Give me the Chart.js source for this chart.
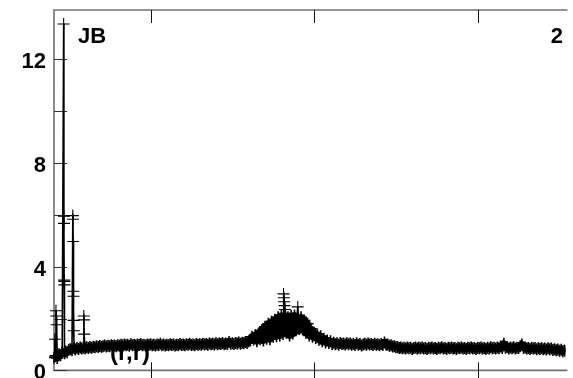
<!DOCTYPE html>
<html><head><meta charset="utf-8">
<script src="https://cdn.jsdelivr.net/npm/chart.js@4/dist/chart.umd.min.js"></script>
<style>html,body{margin:0;padding:0;background:#fff;overflow:hidden}#wrap{width:573px;height:378px;position:relative}</style>
</head><body><div id="wrap"><canvas id="c" width="573" height="378"></canvas></div>
<script>
// sample positions (x) and values (y)
const xs = [
 41,41.5,42,42.2,42.4,42.6,43,44,45,46,
 46.9,47.0,47.1,47.2,47.3,47.4,47.5,48,49,50,
 51,52,52.5,52.6,52.7,52.8,52.9,53.0,53.1,53.4,
 54,55,56,57,58,59,59.2,59.3,59.4,60,
 61,62,63,64,65,66,67,68,69,70,
 71,72,73,74,75,76,77,78,79,80,
 81,82,83,84,85,86,87,88,89,90,
 91,92,93,94,95,96,97,98,99,100,
 101,102,103,104,105,106,107,108,109,110,
 111,112,113,114,115,116,117,118,119,120,
 121,122,123,124,125,126,127,128,129,130,
 131,132,133,134,135,136,137,138,139,140,
 141,142,143,144,145,146,147,148,149,150,
 151,152,153,154,155,156,157,158,159,160,
 161,162,163,164,165,166,167,168,169,170,
 171,172,173,174,175,176,177,178,179,180,
 181,181.3,181.5,181.7,181.9,182.1,182.3,182.5,182.7,183,
 184,185,186,187,188,189,190,191,192,193,
 194,195,196,197,198,199,200,201,202,203,
 204,205,206,207,208,209,210,211,212,213,
 214,215,216,217,218,219,220,221,222,223,
 224,225,226,227,228,229,230,231,232,233,
 234,235,236,237,238,239,240,241,242,243,
 244,245,246,247,248,249,250,251,252,253,
 254,255,256,257,258,259,260,261,262,263,
 264,265,266,267,268,269,270,271,272,273,
 274,275,276,277,278,279,280,281,282,283,
 284,285,286,287,288,289,290,291,292,293,
 294,295,296,297,298,299,300,301,302,303,
 304,305,306,307,308,309,310,311,312,313,
 314,315,316,317,318,319,320,321,322,323,
 324,325,326,327,328,329,330,331,332,333,
 334,335,336,337,338,339,340,341,342,343,
 344,345,346,347,348,349,350,351,352,353,354
];
const ys = [
 0.50,1.20,0.56,2.30,2.10,1.76,0.48,0.62,0.58,0.70,
 13.36,5.95,5.67,3.48,3.43,3.30,0.66,0.74,0.70,0.80,
 0.82,0.78,5.97,5.83,4.97,3.05,2.86,1.93,1.53,0.85,
 0.81,0.86,0.83,0.88,0.84,0.87,2.10,1.95,1.40,0.85,
 0.89,0.86,0.90,0.87,0.91,0.89,0.93,0.90,0.94,0.91,
 0.93,0.96,0.92,0.95,0.93,0.97,0.94,0.96,0.93,0.97,
 0.95,0.99,0.96,1.00,0.97,0.99,0.95,1.01,0.97,0.99,
 0.96,1.00,0.98,1.02,0.97,0.99,0.96,1.00,0.98,1.01,
 0.97,0.99,0.96,1.00,0.98,1.03,0.97,1.00,0.96,0.99,
 0.97,1.01,0.98,1.00,0.96,0.99,0.97,1.02,0.98,1.00,
 0.97,1.01,0.99,1.03,0.98,1.00,0.97,1.02,0.99,1.01,
 0.99,1.03,1.00,1.02,0.99,1.04,1.01,1.03,1.00,1.05,
 1.01,1.04,1.02,1.06,1.01,1.04,1.02,1.10,1.03,1.05,
 1.02,1.06,1.04,1.08,1.03,1.07,1.05,1.10,1.06,1.12,
 1.15,1.30,1.19,1.36,1.12,1.42,1.20,1.55,1.15,1.68,
 1.22,1.80,1.20,1.88,1.30,1.95,1.32,2.05,1.35,2.10,
 1.40,2.95,2.80,2.65,2.50,2.35,2.20,2.05,1.90,1.45,
 2.05,1.35,2.10,1.42,2.12,1.55,2.45,1.60,2.05,1.58,
 1.92,1.45,1.80,1.35,1.60,1.30,1.45,1.25,1.38,1.18,
 1.32,1.12,1.22,1.08,1.15,1.06,1.12,1.02,1.07,1.01,
 1.05,0.99,1.06,1.02,1.04,1.00,1.05,1.01,1.04,0.99,
 1.03,0.98,1.05,0.99,1.02,0.96,1.00,1.03,0.99,1.04,
 1.00,1.02,0.98,1.03,0.99,1.01,0.97,1.02,0.98,1.08,
 0.99,1.00,0.95,0.97,0.92,0.93,0.89,0.90,0.86,0.88,
 0.85,0.87,0.84,0.88,0.85,0.87,0.83,0.86,0.88,0.84,
 0.87,0.85,0.88,0.84,0.86,0.83,0.87,0.85,0.88,0.84,
 0.86,0.83,0.87,0.85,0.89,0.84,0.86,0.83,0.87,0.85,
 0.88,0.84,0.86,0.83,0.87,0.85,0.88,0.84,0.86,0.83,
 0.87,0.85,0.88,0.84,0.86,0.83,0.87,0.85,0.88,0.84,
 0.86,0.83,0.87,0.84,0.89,0.85,0.87,0.84,0.88,0.85,
 0.92,0.86,1.03,0.87,0.90,0.84,0.88,0.85,0.89,0.84,
 0.87,0.86,0.93,1.00,0.86,0.88,0.84,0.86,0.83,0.87,
 0.84,0.86,0.82,0.85,0.83,0.86,0.82,0.84,0.81,0.85,
 0.82,0.84,0.79,0.82,0.78,0.81,0.76,0.80,0.74,0.77,0.75
];
const yTickValues = [0,2,4,6,8,10,12];
const yTickLabels = ['0','','4','','8','','12'];
const xTickValues = [100,200,300];
const cornerLeftText = 'JB';
const cornerRightText = '2';
const underLabelText = '(r,r)';
const X_MIN = 41, X_MAX = 353.6, Y_MIN = 0, Y_MAX = 13.9;

const n = Math.min(xs.length, ys.length);
const points = [];
for (let i = 0; i < n; i++) points.push({x: xs[i], y: ys[i]});

// a segment belongs to the dense noisy band (drawn thick) unless it is part of an isolated spike
function isBandSegment(s) {
  const a = s.p0.parsed, b = s.p1.parsed;
  if (a.x < 60.5 || b.x < 60.5) return a.y < 1.1 && b.y < 1.1;
  return a.y <= 2.15 && b.y <= 2.15 && Math.abs(a.y - b.y) < 1.0;
}
function isSpikePoint(c) {
  const p = c.raw;
  if (!p) return false;
  if (p.x < 60.5) return p.y >= 1.1;
  return p.y > 2.15;
}

const FONT = 'bold 22px "Liberation Sans", Arial, sans-serif';

const framePlugin = {
  id: 'frame',
  beforeDatasetsDraw(chart) {
    const {ctx, chartArea: a, scales: {x, y}} = chart;
    ctx.save();
    ctx.fillStyle = '#000';
    ctx.font = 'bold 24px "Liberation Sans", Arial, sans-serif';
    ctx.textAlign = 'left';
    ctx.textBaseline = 'alphabetic';
    ctx.fillText(underLabelText, 110, 360);
    ctx.strokeStyle = '#707070';
    ctx.lineWidth = 1.6;
    ctx.beginPath();
    ctx.moveTo(a.right + 2, a.top); ctx.lineTo(a.left, a.top); ctx.lineTo(a.left, a.bottom); ctx.lineTo(a.right + 2, a.bottom);
    ctx.stroke();
    ctx.strokeStyle = '#333';
    ctx.lineWidth = 1;
    yTickValues.forEach(v => {
      const py = Math.round(y.getPixelForValue(v)) + 0.5;
      ctx.beginPath(); ctx.moveTo(a.left, py); ctx.lineTo(a.left + 13, py); ctx.stroke();
    });
    ctx.strokeStyle = '#111';
    xTickValues.forEach(v => {
      const px = Math.round(x.getPixelForValue(v)) + 0.5;
      ctx.beginPath(); ctx.moveTo(px, a.top); ctx.lineTo(px, a.top + 13); ctx.stroke();
      ctx.beginPath(); ctx.moveTo(px, a.bottom - 8); ctx.lineTo(px, a.bottom + 8); ctx.stroke();
    });
    ctx.restore();
  },
  afterDraw(chart) {
    const {ctx, scales: {y}} = chart;
    ctx.save();
    ctx.fillStyle = '#000';
    ctx.font = FONT;
    ctx.textBaseline = 'alphabetic';
    ctx.textAlign = 'right';
    yTickValues.forEach((v, i) => {
      if (!yTickLabels[i]) return;
      const py = y.getPixelForValue(v);
      ctx.fillText(yTickLabels[i], 46, py + 9);
    });
    ctx.textAlign = 'left';
    ctx.fillText(cornerLeftText, 78, 43);
    ctx.textAlign = 'right';
    ctx.fillText(cornerRightText, 563, 43);
    ctx.restore();
  }
};

new Chart(document.getElementById('c'), {
  type: 'scatter',
  data: {
    datasets: [{
      data: points,
      showLine: true,
      borderColor: '#000',
      borderWidth: 1.6,
      borderJoinStyle: 'round',
      borderCapStyle: 'round',
      segment: {
        borderWidth: (s) => isBandSegment(s) ? 7 : 1.6
      },
      tension: 0,
      pointStyle: 'cross',
      pointRadius: 6,
      pointBorderWidth: (c) => isSpikePoint(c) ? 1.1 : 1.6,
      pointBorderColor: '#000',
      pointBackgroundColor: '#000',
      clip: {left: 5, top: 5, right: 0, bottom: 5}
    }]
  },
  options: {
    responsive: false,
    animation: false,
    devicePixelRatio: 1,
    layout: {padding: {left: 54, top: 10, right: 0, bottom: 5}},
    plugins: {legend: {display: false}, tooltip: {enabled: false}},
    scales: {
      x: {type: 'linear', min: X_MIN, max: X_MAX, display: false},
      y: {type: 'linear', min: Y_MIN, max: Y_MAX, display: false}
    }
  },
  plugins: [framePlugin]
});
</script>
</body></html>
